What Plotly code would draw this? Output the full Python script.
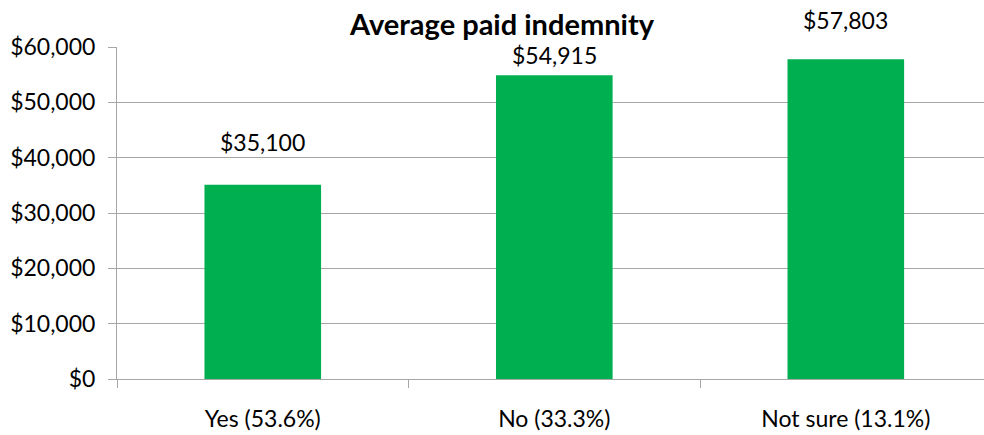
import plotly.graph_objects as go

categories = ["Yes (53.6%)", "No (33.3%)", "Not sure (13.1%)"]
values = [35100, 54915, 57803]
value_labels = ["$35,100", "$54,915", "$57,803"]
title_text = "Average paid indemnity"

# style: per-label vertical offsets (px) mimicking reference placement
label_yshift = [27, 4, 23]

FONT = "Lato, Carlito, Calibri, sans-serif"
GRID = "#A6A6A6"

fig = go.Figure()
fig.add_trace(go.Bar(
    x=categories, y=values, width=0.4,
    marker=dict(color="#00B050", line=dict(width=0)),
    hoverinfo="skip",
))

for c, v, t, s in zip(categories, values, value_labels, label_yshift):
    fig.add_annotation(x=c, y=v, text=t, showarrow=False, yanchor="bottom",
                       yshift=s, font=dict(family=FONT, size=23, color="#000"))

fig.update_layout(
    width=984, height=435,
    margin=dict(l=117, r=0, t=47, b=56),
    paper_bgcolor="white", plot_bgcolor="white",
    showlegend=False,
    font=dict(family=FONT, size=23, color="#000"),
    title=dict(text="<b>" + title_text + "</b>", xref="container", yref="container",
               x=502 / 984, xanchor="center", y=1 - 25 / 435, yanchor="middle",
               font=dict(family=FONT, size=29, color="#000")),
    bargap=0.6,
)
fig.update_xaxes(
    range=[-0.5, 2.474], showgrid=False, showline=True, linecolor=GRID, linewidth=1,
    ticks="outside", tickson="boundaries", ticklen=8, tickcolor=GRID,
    ticklabelstandoff=19, zeroline=False,
)
fig.update_yaxes(
    range=[0, 60000], dtick=10000, tickformat="$,", showgrid=True, gridcolor=GRID,
    gridwidth=1, showline=True, linecolor=GRID, linewidth=1, ticks="outside",
    ticklen=8, tickcolor=GRID, ticklabelstandoff=8, zeroline=False,
)

fig.write_html("out.html")
